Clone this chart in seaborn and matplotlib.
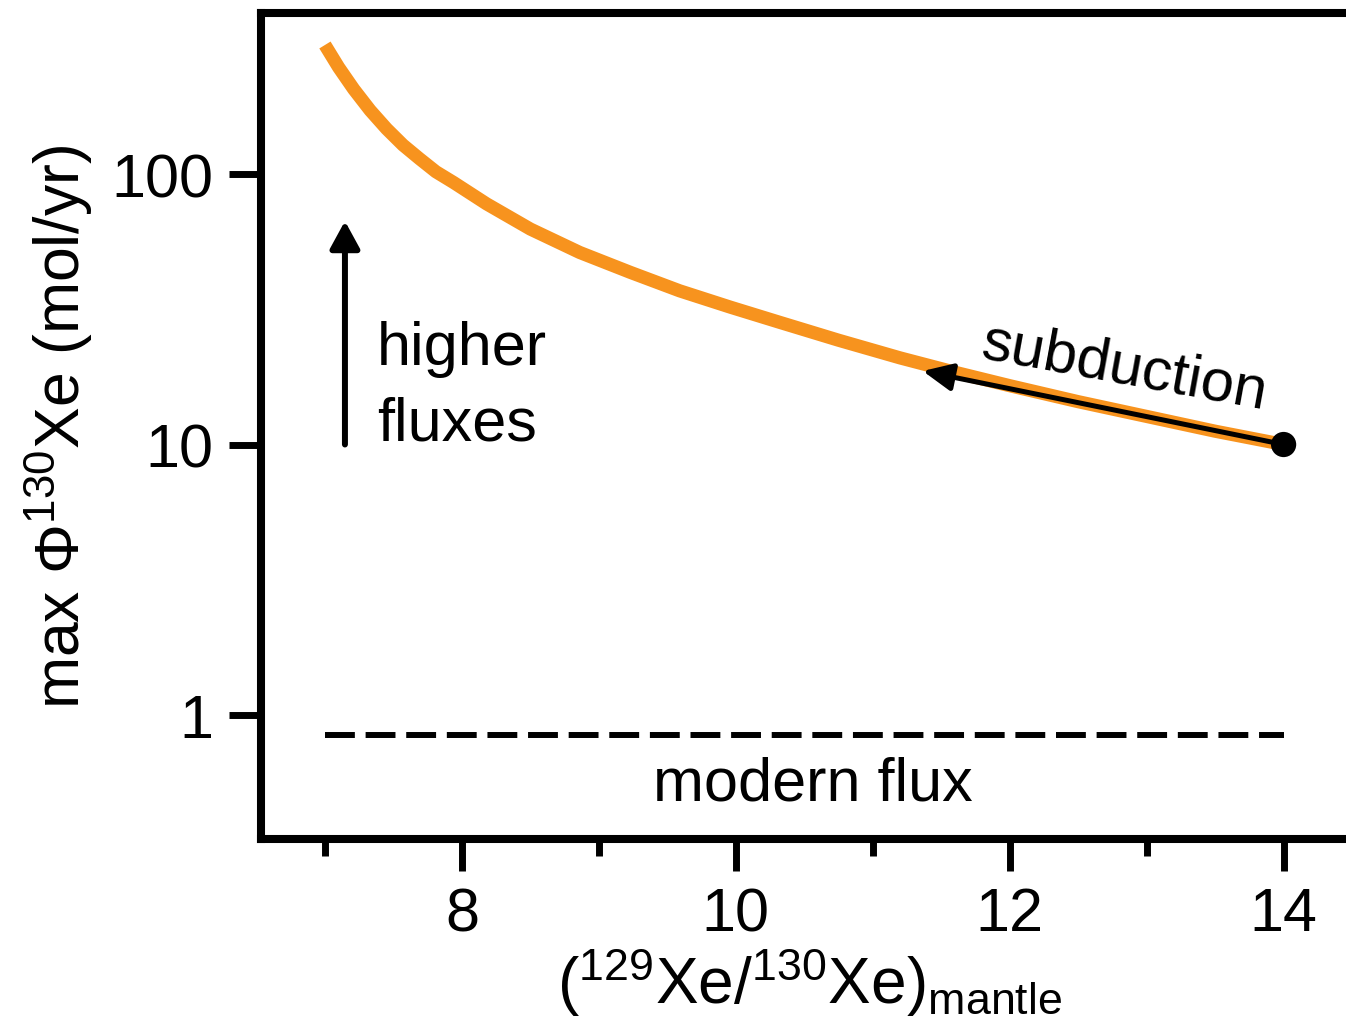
import matplotlib
matplotlib.use('Agg')
import matplotlib.pyplot as plt
from matplotlib.ticker import FixedLocator, NullLocator, FixedFormatter
import seaborn as sns
import pandas as pd

# valores
razao_xe = [7.0, 7.1, 7.21, 7.33, 7.45, 7.57, 7.69, 7.81, 7.94, 8.18, 8.5,
            8.86, 9.23, 9.59, 9.96, 10.32, 10.75, 11.2, 11.6, 12.0, 12.5,
            13.0, 13.5, 14.0]
fluxo_max = [300, 248, 206, 172, 147, 128, 114, 102, 93, 77.6, 62.6,
             51.3, 43.3, 37.0, 32.2, 28.3, 24.3, 20.9, 18.5, 16.5, 14.4,
             12.7, 11.2, 10.0]
fluxo_moderno = 0.84
x_moderno = [7.0, 14.0]
ponto_atual = (14.0, 10.0)
x_ticks = [8, 10, 12, 14]
x_minor = [7, 9, 11, 13]
y_ticks = [1, 10, 100]
y_labels = ['1', '10', '100']

sns.set_theme(style='ticks')
plt.rcParams['font.family'] = ['Liberation Sans', 'DejaVu Sans']
plt.rcParams['mathtext.fontset'] = 'custom'
plt.rcParams['mathtext.rm'] = 'Liberation Sans'
plt.rcParams['mathtext.default'] = 'regular'
for k in ['text.color', 'axes.labelcolor', 'xtick.color', 'ytick.color', 'axes.edgecolor']:
    plt.rcParams[k] = 'black'

curva = pd.DataFrame({'razao': razao_xe, 'fluxo': fluxo_max})

fig = plt.figure(figsize=(13.46, 10.2), dpi=100)
ax = fig.add_axes([0.1939, 0.1765, 0.8157, 0.8098])

sns.lineplot(data=curva, x='razao', y='fluxo', color='#F7931E', lw=9.5, ax=ax,
             zorder=2, solid_capstyle='butt', solid_joinstyle='round')
sns.lineplot(x=x_moderno, y=[fluxo_moderno] * 2, color='black', lw=4.3, ax=ax,
             linestyle=(0, (5, 1.8)), zorder=2)
sns.scatterplot(x=[ponto_atual[0]], y=[ponto_atual[1]], color='black', s=330,
                edgecolor='none', ax=ax, zorder=5)

ax.set_yscale('log')
ax.set_xlim(6.533, 14.55)
ax.set_ylim(0.348, 394)

# seta de subducção
ax.annotate('', xy=(11.365, 18.7), xytext=ponto_atual,
            arrowprops=dict(arrowstyle='-|>,head_length=18,head_width=8.3',
                            mutation_scale=1, lw=3.6, color='black',
                            shrinkA=0, shrinkB=0), zorder=4)
ax.text(12.84, 19.3, 'subduction', rotation=-10.3, rotation_mode='anchor',
        ha='center', va='center', fontsize=43)

# seta "higher fluxes"
ax.annotate('', xy=(7.146, 67), xytext=(7.146, 10),
            arrowprops=dict(arrowstyle='-|>,head_length=16.5,head_width=9',
                            mutation_scale=1, lw=4.3, color='black',
                            shrinkA=0, shrinkB=0))
ax.text(7.38, 19.85, 'higher', ha='left', va='baseline', fontsize=44)
ax.text(7.38, 10.48, 'fluxes', ha='left', va='baseline', fontsize=44)

ax.text(10.56, 0.489, 'modern flux', ha='center', va='baseline', fontsize=44)

ax.xaxis.set_major_locator(FixedLocator(x_ticks))
ax.xaxis.set_minor_locator(FixedLocator(x_minor))
ax.yaxis.set_major_locator(FixedLocator(y_ticks))
ax.yaxis.set_major_formatter(FixedFormatter(y_labels))
ax.yaxis.set_minor_locator(NullLocator())

ax.tick_params(which='major', length=23, width=5, labelsize=44, pad=11)
ax.tick_params(which='minor', length=12, width=5)
for s in ax.spines.values():
    s.set_linewidth(5.8)

ax.set_xlabel('($^{129}$Xe/$^{130}$Xe)$_{mantle}$', fontsize=46, labelpad=1)
ax.set_ylabel('max Φ$^{130}$Xe (mol/yr)', fontsize=45, labelpad=12)

fig.savefig('out.png', dpi=100)
